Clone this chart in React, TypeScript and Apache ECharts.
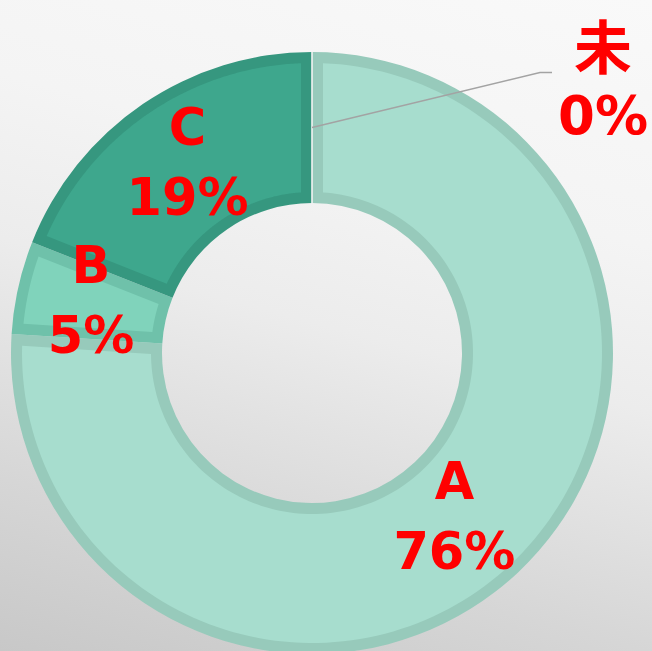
import React, { useEffect, useRef } from 'react';
import * as echarts from 'echarts';

const CATEGORIES = ['A', 'B', 'C', '未'];
const VALUES = [76, 5, 19, 0];
const FILL_COLORS = ['#a7ddce', '#80d3bb', '#3ea78d', '#f3f3f3'];
const BORDER_COLORS = ['#97cabb', '#6fc1aa', '#36977f', '#f3f3f3'];

const W = 652;
const H = 651;
const CX = 312;
const CY = 353;
const R_IN = 150;
const R_OUT = 301;
const BORDER = 11;

export default function App() {
  const ref = useRef<HTMLDivElement>(null);

  useEffect(() => {
    const chart = echarts.init(ref.current!, null, { renderer: 'svg' });
    const total = VALUES.reduce((a, b) => a + b, 0);
    const starts: number[] = [];
    let acc = 0;
    VALUES.forEach((v) => {
      starts.push(acc);
      acc += v;
    });
    const toAngle = (v: number) => (v / total) * Math.PI * 2;
    const pt = (a: number, r: number) => [CX + r * Math.sin(a), CY - r * Math.cos(a)];
    const midR = (R_IN + R_OUT) / 2;

    const renderItem = (params: any, api: any) => {
      const i = params.dataIndex;
      const v = api.value(0);
      const a0 = toAngle(starts[i]);
      const a1 = toAngle(starts[i] + v);
      if (v === 0) {
        const p1 = pt(a0, R_IN);
        const p2 = pt(a0, R_OUT);
        return {
          type: 'line',
          shape: { x1: p1[0], y1: p1[1], x2: p2[0], y2: p2[1] },
          style: { stroke: FILL_COLORS[i], lineWidth: 1.6 },
        };
      }
      const ri = R_IN + BORDER;
      const ro = R_OUT - BORDER;
      const dO = Math.asin(BORDER / ro);
      const dI = Math.asin(BORDER / ri);
      const points: number[][] = [];
      const N = 160;
      for (let k = 0; k <= N; k++) {
        const a = a0 + dO + ((a1 - a0 - 2 * dO) * k) / N;
        points.push(pt(a, ro));
      }
      for (let k = 0; k <= N; k++) {
        const a = a1 - dI - ((a1 - a0 - 2 * dI) * k) / N;
        points.push(pt(a, ri));
      }
      return {
        type: 'polygon',
        shape: { points },
        style: { fill: FILL_COLORS[i] },
      };
    };

    const labelFont = '"DejaVu Sans", "Noto Sans CJK SC", sans-serif';
    const cjkFont = '"Noto Sans CJK SC", "DejaVu Sans", sans-serif';

    chart.setOption({
      animation: false,
      backgroundColor: 'transparent',
      series: [
        {
          type: 'pie',
          z: 1,
          silent: true,
          center: [CX, CY],
          radius: [R_IN, R_OUT],
          startAngle: 90,
          clockwise: true,
          avoidLabelOverlap: false,
          label: { show: false },
          labelLine: { show: false },
          emphasis: { disabled: true },
          data: CATEGORIES.map((name, i) => ({
            name,
            value: VALUES[i],
            itemStyle: { color: BORDER_COLORS[i], borderWidth: 0 },
          })),
        },
        {
          type: 'custom',
          z: 2,
          silent: true,
          coordinateSystem: 'none',
          renderItem,
          data: VALUES,
        },
        {
          type: 'pie',
          z: 3,
          silent: true,
          center: [CX, CY],
          radius: [R_IN + BORDER / 2, R_OUT - BORDER / 2],
          startAngle: 90,
          clockwise: true,
          avoidLabelOverlap: false,
          emphasis: { disabled: true },
          itemStyle: { color: 'rgba(0,0,0,0)', borderWidth: 0 },
          label: {
            show: true,
            position: 'inside',
            formatter: '{b}\n{c}%',
            color: '#ff0000',
            fontFamily: labelFont,
            fontWeight: 'bold',
            fontSize: 51,
            lineHeight: 70,
            align: 'center',
          },
          labelLine: { show: false },
          labelLayout: (params: any) => {
            if (params.dataIndex === 3) {
              const s = pt(0, midR);
              return {
                x: s[0] + 291,
                y: s[1] - 42,
                align: 'center',
                verticalAlign: 'middle',
                labelLinePoints: [s, [s[0] + 228, s[1] - 55], [s[0] + 240, s[1] - 55]],
              };
            }
            if (params.dataIndex === 0) {
              return { dx: -14, dy: -3 };
            }
            if (params.dataIndex === 2) {
              return { dx: 4, dy: -2 };
            }
            if (params.dataIndex === 1) {
              return { dx: 2, dy: -3 };
            }
            return {};
          },
          data: CATEGORIES.map((name, i) =>
            i === 3
              ? {
                  name,
                  value: VALUES[i],
                  label: {
                    position: 'outside',
                    formatter: '{z|{b}}\n{p|{c}%}',
                    rich: {
                      z: {
                        fontFamily: cjkFont,
                        fontWeight: 'bold',
                        fontSize: 58,
                        lineHeight: 60,
                        color: '#ff0000',
                        align: 'center',
                      },
                      p: {
                        fontFamily: labelFont,
                        fontWeight: 'bold',
                        fontSize: 53,
                        lineHeight: 84,
                        color: '#ff0000',
                        align: 'center',
                      },
                    },
                  },
                  labelLine: {
                    show: true,
                    length: 10,
                    length2: 10,
                    lineStyle: { color: '#a3a3a3', width: 1.5 },
                  },
                }
              : { name, value: VALUES[i] }
          ),
        },
      ],
    });
    return () => chart.dispose();
  }, []);

  return (
    <div
      style={{
        position: 'absolute',
        left: 0,
        top: 0,
        width: W,
        height: H,
        background:
          'linear-gradient(195deg, #f9f9f9 0%, #f4f4f4 30%, #ececec 50%, #d6d6d6 79%, #c8c8c8 100%)',
      }}
    >
      <div ref={ref} style={{ width: W, height: H }} />
    </div>
  );
}
